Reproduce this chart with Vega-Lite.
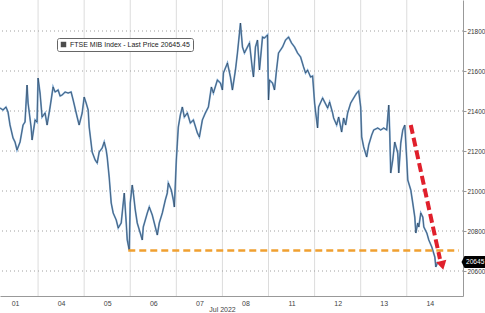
{
  "$schema": "https://vega.github.io/schema/vega-lite/v6.json",
  "width": 463,
  "height": 296,
  "padding": {"left": 0, "top": 0, "right": 22, "bottom": 17},
  "autosize": {"type": "none"},
  "background": "#ffffff",
  "config": {
    "view": {"stroke": null},
    "font": "Liberation Sans",
    "axis": {"labelFont": "Liberation Sans", "titleFont": "Liberation Sans"}
  },
  "datasets": {
    "price": [
      {"t":0.174,"v":21415},{"t":0.239,"v":21405},{"t":0.304,"v":21420},{"t":0.348,"v":21395},{"t":0.391,"v":21330},{"t":0.457,"v":21265},{"t":0.5,"v":21245},{"t":0.543,"v":21205},{"t":0.609,"v":21245},{"t":0.674,"v":21330},{"t":0.717,"v":21345},{"t":0.761,"v":21530},{"t":0.783,"v":21440},{"t":0.848,"v":21320},{"t":0.87,"v":21255},{"t":0.935,"v":21355},{"t":0.978,"v":21345},
      {"t":1.0,"v":21565},{"t":1.043,"v":21490},{"t":1.087,"v":21370},{"t":1.152,"v":21390},{"t":1.196,"v":21330},{"t":1.261,"v":21420},{"t":1.326,"v":21520},{"t":1.37,"v":21495},{"t":1.435,"v":21505},{"t":1.478,"v":21475},{"t":1.522,"v":21480},{"t":1.587,"v":21495},{"t":1.652,"v":21490},{"t":1.717,"v":21495},{"t":1.761,"v":21455},{"t":1.848,"v":21370},{"t":1.891,"v":21330},{"t":1.957,"v":21390},
      {"t":2.0,"v":21470},{"t":2.043,"v":21440},{"t":2.087,"v":21405},{"t":2.109,"v":21320},{"t":2.174,"v":21195},{"t":2.239,"v":21155},{"t":2.283,"v":21140},{"t":2.326,"v":21195},{"t":2.391,"v":21215},{"t":2.435,"v":21245},{"t":2.478,"v":21205},{"t":2.5,"v":21170},{"t":2.543,"v":21070},{"t":2.587,"v":20940},{"t":2.63,"v":20890},{"t":2.696,"v":20855},{"t":2.739,"v":20815},{"t":2.804,"v":20840},{"t":2.826,"v":20890},{"t":2.87,"v":20990},{"t":2.913,"v":20840},{"t":2.935,"v":20755},{"t":2.978,"v":20705},
      {"t":3.0,"v":20940},{"t":3.043,"v":21030},{"t":3.065,"v":20995},{"t":3.109,"v":20905},{"t":3.152,"v":20840},{"t":3.217,"v":20790},{"t":3.261,"v":20755},{"t":3.283,"v":20820},{"t":3.37,"v":20890},{"t":3.413,"v":20920},{"t":3.478,"v":20880},{"t":3.522,"v":20840},{"t":3.587,"v":20780},{"t":3.63,"v":20840},{"t":3.696,"v":20890},{"t":3.761,"v":20955},{"t":3.804,"v":20990},{"t":3.826,"v":21040},{"t":3.891,"v":21005},{"t":3.935,"v":20955},{"t":3.957,"v":20920},
      {"t":4.0,"v":21155},{"t":4.022,"v":21240},{"t":4.043,"v":21320},{"t":4.087,"v":21380},{"t":4.13,"v":21420},{"t":4.174,"v":21370},{"t":4.239,"v":21390},{"t":4.304,"v":21340},{"t":4.37,"v":21355},{"t":4.457,"v":21290},{"t":4.5,"v":21270},{"t":4.565,"v":21355},{"t":4.63,"v":21390},{"t":4.696,"v":21420},{"t":4.761,"v":21520},{"t":4.804,"v":21490},{"t":4.891,"v":21555},{"t":4.957,"v":21540},
      {"t":5.0,"v":21505},{"t":5.022,"v":21590},{"t":5.109,"v":21640},{"t":5.174,"v":21570},{"t":5.217,"v":21505},{"t":5.283,"v":21605},{"t":5.326,"v":21690},{"t":5.37,"v":21790},{"t":5.391,"v":21840},{"t":5.435,"v":21720},{"t":5.478,"v":21690},{"t":5.543,"v":21720},{"t":5.587,"v":21740},{"t":5.652,"v":21605},{"t":5.674,"v":21570},{"t":5.717,"v":21720},{"t":5.761,"v":21755},{"t":5.804,"v":21605},{"t":5.87,"v":21770},{"t":5.913,"v":21765},{"t":5.978,"v":21780},
      {"t":6.0,"v":21455},{"t":6.022,"v":21555},{"t":6.087,"v":21540},{"t":6.13,"v":21505},{"t":6.174,"v":21605},{"t":6.217,"v":21690},{"t":6.304,"v":21720},{"t":6.37,"v":21755},{"t":6.435,"v":21770},{"t":6.5,"v":21740},{"t":6.565,"v":21720},{"t":6.63,"v":21690},{"t":6.696,"v":21670},{"t":6.761,"v":21620},{"t":6.804,"v":21590},{"t":6.848,"v":21605},{"t":6.913,"v":21570},{"t":6.957,"v":21575},
      {"t":7.0,"v":21440},{"t":7.022,"v":21395},{"t":7.065,"v":21315},{"t":7.087,"v":21420},{"t":7.174,"v":21465},{"t":7.217,"v":21445},{"t":7.283,"v":21415},{"t":7.326,"v":21445},{"t":7.391,"v":21390},{"t":7.413,"v":21365},{"t":7.478,"v":21330},{"t":7.522,"v":21370},{"t":7.587,"v":21295},{"t":7.63,"v":21365},{"t":7.674,"v":21330},{"t":7.717,"v":21390},{"t":7.783,"v":21440},{"t":7.848,"v":21465},{"t":7.913,"v":21490},{"t":7.957,"v":21500},
      {"t":8.0,"v":21420},{"t":8.022,"v":21270},{"t":8.065,"v":21220},{"t":8.13,"v":21170},{"t":8.174,"v":21230},{"t":8.239,"v":21280},{"t":8.283,"v":21305},{"t":8.37,"v":21315},{"t":8.435,"v":21305},{"t":8.5,"v":21315},{"t":8.565,"v":21305},{"t":8.609,"v":21430},{"t":8.63,"v":21295},{"t":8.652,"v":21090},{"t":8.696,"v":21155},{"t":8.739,"v":21245},{"t":8.804,"v":21190},{"t":8.826,"v":21090},{"t":8.87,"v":21240},{"t":8.913,"v":21305},{"t":8.957,"v":21330},
      {"t":9.0,"v":21155},{"t":9.022,"v":21055},{"t":9.087,"v":21005},{"t":9.13,"v":20940},{"t":9.174,"v":20870},{"t":9.196,"v":20790},{"t":9.239,"v":20840},{"t":9.261,"v":20820},{"t":9.304,"v":20890},{"t":9.348,"v":20870},{"t":9.37,"v":20820},{"t":9.435,"v":20790},{"t":9.478,"v":20755},{"t":9.543,"v":20720},{"t":9.609,"v":20670},{"t":9.63,"v":20620},{"t":9.674,"v":20645.45}
    ],
    "days": [{"b":1},{"b":2},{"b":3},{"b":4},{"b":5},{"b":6},{"b":7},{"b":8},{"b":9}],
    "levels": [{"g":20600},{"g":20800},{"g":21000},{"g":21200},{"g":21400},{"g":21600},{"g":21800}],
    "support": [{"t":2.957,"v":20703},{"t":10.13,"v":20703}],
    "arrow": [{"t":9.087,"v":21330},{"t":9.72,"v":20660}],
    "head": [{"t":9.77,"v":20628}],
    "legend": [{"s":"FTSE MIB Index - Last Price 20645.45","t":9.674,"v":20645.45}],
    "last": [{"v":20645.45,"label":"20645"}]
  },
  "layer": [
    {
      "data": {"name": "days"},
      "mark": {"type": "rule", "color": "#dcdcdc", "strokeWidth": 1},
      "encoding": {
        "x": {"field": "b", "type": "quantitative", "scale": {"domain": [0.174, 10.22], "nice": false, "zero": false},
          "axis": {"values": [0.5,1.5,2.5,3.5,4.5,5.5,6.5,7.5,8.5,9.5],
            "labelExpr": "['01','04','05','06','07','08','11','12','13','14'][floor(datum.value)]",
            "grid": false, "ticks": false, "domainColor": "#999", "labelFontSize": 7, "labelColor": "#444", "labelPadding": 3,
            "title": "Jul 2022", "titleFontSize": 7, "titleFontWeight": "normal", "titleColor": "#444", "titlePadding": -1, "titleX": 222}}
      }
    },
    {
      "data": {"name": "levels"},
      "mark": {"type": "rule", "color": "#a0a0a0", "strokeWidth": 1, "strokeDash": [1, 3]},
      "encoding": {
        "y": {"field": "g", "type": "quantitative", "scale": {"domain": [20475, 21955], "nice": false, "zero": false},
          "axis": {"orient": "right", "values": [20600,20800,21000,21200,21400,21600,21800],
            "format": "d", "labelOverlap": false, "grid": false,
            "domainColor": "#999", "tickColor": "#999", "tickSize": 3, "labelFontSize": 6.4, "labelColor": "#333", "labelPadding": 1, "title": null}}
      }
    },
    {
      "data": {"name": "price"},
      "mark": {"type": "line", "color": "#76a3cf", "strokeWidth": 1.8, "interpolate": "linear"},
      "encoding": {
        "x": {"field": "t", "type": "quantitative"},
        "y": {"field": "v", "type": "quantitative"}
      }
    },
    {
      "data": {"name": "price"},
      "mark": {"type": "line", "color": "#1c2a3a", "strokeWidth": 0.6, "opacity": 0.85},
      "encoding": {
        "x": {"field": "t", "type": "quantitative"},
        "y": {"field": "v", "type": "quantitative"}
      }
    },
    {
      "data": {"name": "support"},
      "mark": {"type": "line", "color": "#f0a030", "strokeWidth": 2.5, "strokeDash": [7, 4]},
      "encoding": {
        "x": {"field": "t", "type": "quantitative"},
        "y": {"field": "v", "type": "quantitative"}
      }
    },
    {
      "data": {"name": "arrow"},
      "mark": {"type": "line", "color": "#e0202c", "strokeWidth": 4, "strokeDash": [9, 4]},
      "encoding": {
        "x": {"field": "t", "type": "quantitative"},
        "y": {"field": "v", "type": "quantitative"}
      }
    },
    {
      "data": {"name": "head"},
      "mark": {"type": "point", "shape": "triangle-down", "filled": true, "color": "#e0202c", "size": 110, "angle": 347, "opacity": 1},
      "encoding": {
        "x": {"field": "t", "type": "quantitative"},
        "y": {"field": "v", "type": "quantitative"}
      }
    },
    {
      "data": {"name": "legend"},
      "mark": {"type": "point", "shape": "square", "filled": true, "size": 0},
      "encoding": {
        "x": {"field": "t", "type": "quantitative"},
        "y": {"field": "v", "type": "quantitative"},
        "color": {"field": "s", "type": "nominal", "scale": {"range": ["#000000"]},
          "legend": {"orient": "none", "legendX": 57, "legendY": 38, "title": null, "padding": 3,
            "strokeColor": "#666", "fillColor": "#ffffff", "cornerRadius": 2,
            "labelFontSize": 7, "labelColor": "#222", "labelFont": "Liberation Sans",
            "symbolType": "square", "symbolSize": 30, "labelOffset": 3}}
      }
    },
    {
      "data": {"name": "last"},
      "mark": {"type": "point", "shape": "M-0.3,0 L0.3,-1.2 L6,-1.2 L6,1.2 L0.3,1.2 Z", "filled": true, "color": "#000000", "size": 100, "opacity": 1},
      "encoding": {
        "x": {"datum": 10.22, "type": "quantitative"},
        "y": {"field": "v", "type": "quantitative"}
      }
    },
    {
      "data": {"name": "last"},
      "mark": {"type": "text", "color": "#ffffff", "fontSize": 6.6, "align": "left", "baseline": "middle", "dx": 3},
      "encoding": {
        "x": {"datum": 10.22, "type": "quantitative"},
        "y": {"field": "v", "type": "quantitative"},
        "text": {"field": "label"}
      }
    }
  ]
}
